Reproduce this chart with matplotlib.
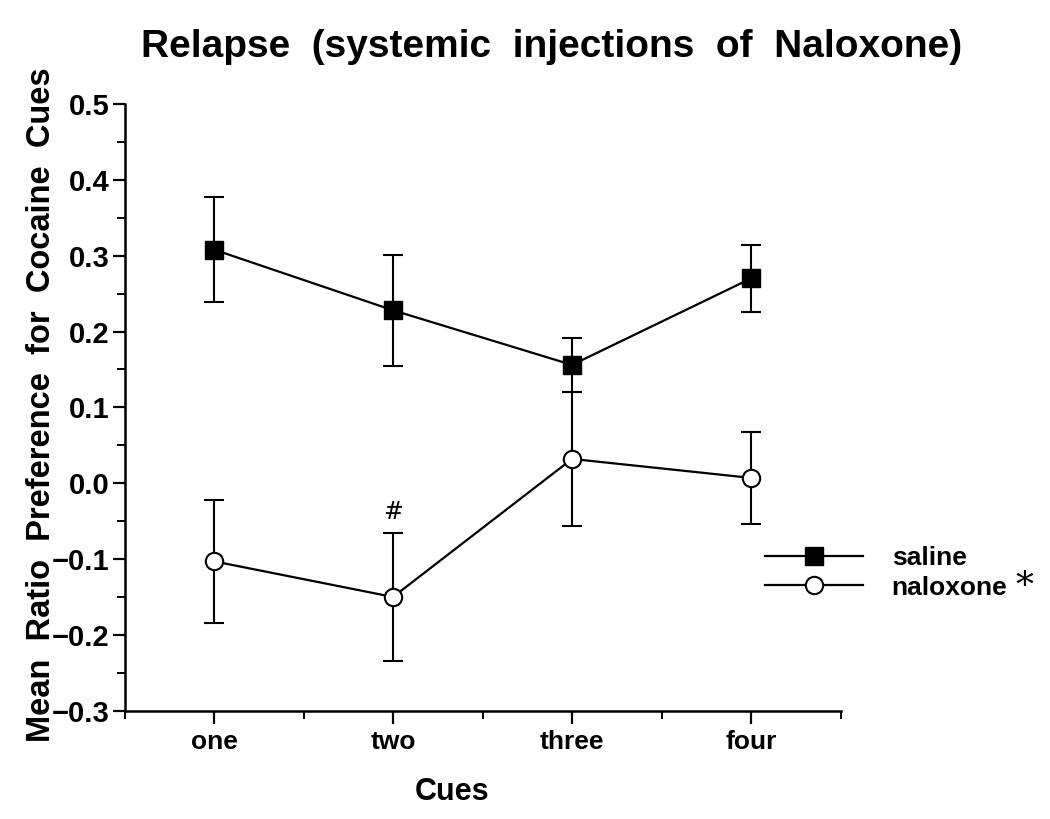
import numpy as np
import matplotlib
matplotlib.use("Agg")
import matplotlib.pyplot as plt
from matplotlib.ticker import MultipleLocator
from matplotlib.lines import Line2D

# values
cues = ["one", "two", "three", "four"]
saline_mean = [0.308, 0.228, 0.156, 0.270]
saline_sem = [0.069, 0.073, 0.036, 0.044]
naloxone_mean = [-0.103, -0.150, 0.032, 0.007]
naloxone_sem = [0.081, 0.085, 0.088, 0.061]

plt.rcParams['font.family'] = ['Liberation Sans', 'DejaVu Sans']

x = np.arange(1, len(cues) + 1)

fig = plt.figure(figsize=(10.5, 8.19), dpi=100)
ax = fig.add_axes([0.1186, 0.1322, 0.6819, 0.7408])

sal_style = dict(color="black", lw=1.6, marker="s", ms=13.5, mfc="black", mec="black")
nal_style = dict(color="black", lw=1.6, marker="o", ms=12.5, mfc="white", mec="black", mew=1.5)

ax.errorbar(x, saline_mean, yerr=saline_sem, elinewidth=1.5, capsize=7,
            capthick=1.5, zorder=3, **sal_style)
ax.errorbar(x, naloxone_mean, yerr=naloxone_sem, elinewidth=1.5, capsize=7,
            capthick=1.5, zorder=3, **nal_style)

# significance mark above cue two
ax.text(x[1], naloxone_mean[1] + naloxone_sem[1] + 0.027, "#",
        ha="center", va="center", fontsize=17, family="DejaVu Serif")

ax.set_xlim(0.5, 4.5)
ax.set_ylim(-0.3, 0.5)
ax.set_xticks(x)
ax.set_xticklabels(cues)
ax.xaxis.set_minor_locator(MultipleLocator(0.5))
ax.yaxis.set_major_locator(MultipleLocator(0.1))
ax.yaxis.set_minor_locator(MultipleLocator(0.05))
ax.set_yticklabels([f"{v:.1f}".replace("-", "\u2212") for v in ax.get_yticks()])

for s in ["top", "right"]:
    ax.spines[s].set_visible(False)
for s in ["left", "bottom"]:
    ax.spines[s].set_linewidth(1.8)

ax.tick_params(which="major", length=9, width=1.6, direction="out")
ax.tick_params(which="minor", length=6, width=1.4, direction="out")
ax.tick_params(axis="y", labelsize=21, pad=2)
ax.tick_params(axis="x", labelsize=19, pad=5)
for lab in ax.get_xticklabels() + ax.get_yticklabels():
    lab.set_fontweight("bold")

ax.set_xlabel("Cues", fontsize=22, fontweight="bold")
ax.xaxis.set_label_coords(0.457, -0.11)
ax.set_ylabel("Mean  Ratio  Preference  for  Cocaine  Cues", fontsize=23.5, fontweight="bold")
ax.yaxis.set_label_coords(-0.094, 0.504)

fig.suptitle("Relapse  (systemic  injections  of  Naloxone)", x=0.525, y=0.965,
             fontsize=28, fontweight="bold")

handles = [Line2D([], [], **sal_style), Line2D([], [], **nal_style)]
leg = ax.legend(handles, ["saline", "naloxone"], loc="upper left",
                bbox_to_anchor=(0.7286, 0.333), bbox_transform=fig.transFigure,
                frameon=False, fontsize=19, handlelength=3.7, handletextpad=1.1,
                labelspacing=0.2, borderpad=0, borderaxespad=0)
for t in leg.get_texts():
    t.set_fontweight("bold")
fig.text(0.976, 0.283, "*", fontsize=26, family="DejaVu Serif", ha="center", va="center")

fig.savefig("out.png", dpi=100, facecolor="white")
